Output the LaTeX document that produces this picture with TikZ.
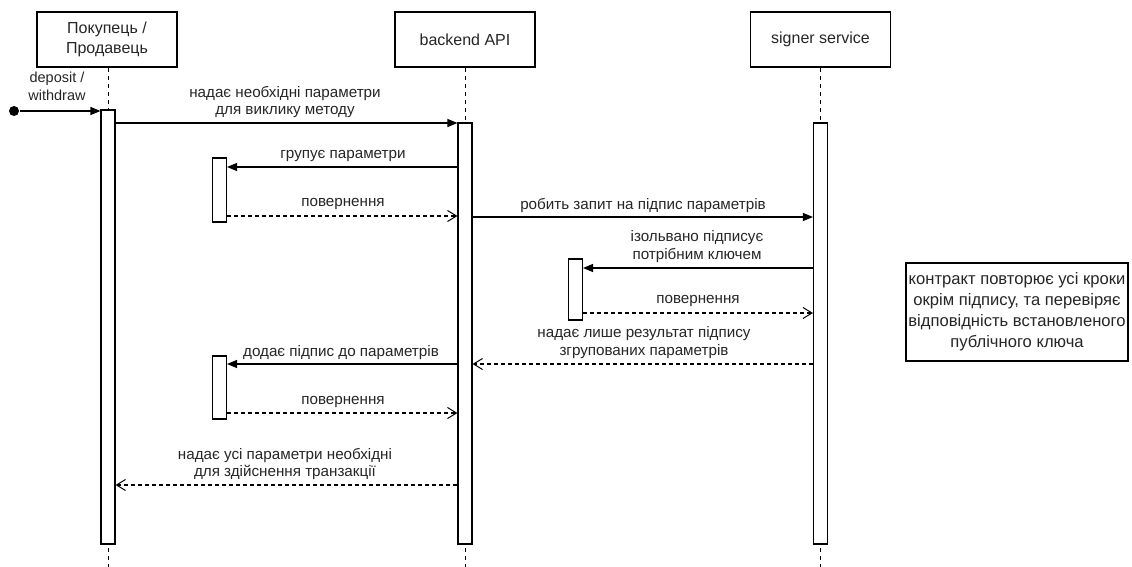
\documentclass[tikz,border=0pt]{standalone}
\usepackage{fontspec}
\setmainfont{Liberation Sans}
\usetikzlibrary{arrows.meta}
\begin{document}
\begin{tikzpicture}[x=1pt,y=-1pt,
  line width=1.1pt,
  head/.style={draw, fill=white, minimum width=140pt, minimum height=55pt,
    inner sep=0pt, align=center, text=black!85, font=\fontsize{16}{20}\selectfont},
  bar/.style={draw, fill=white, minimum width=14pt, inner sep=0pt},
  life/.style={dash pattern=on 4pt off 4pt, line width=1pt},
  call/.style={-{Triangle[length=10pt,width=8pt]}},
  ret/.style={dash pattern=on 4pt off 3pt, -{Straight Barb[length=9pt,width=11pt,line width=1pt]}},
  lbl/.style={align=center, inner sep=0pt, text=black!85, font=\fontsize{15.2}{17.5}\selectfont},
  note/.style={draw, fill=white, align=center, inner sep=0pt, minimum width=222pt,
    minimum height=98pt, text=black!85, font=\fontsize{16.6}{21}\selectfont}]
\useasboundingbox[fill=white] (0,0) rectangle (1132,567);

% participants
\node[head] (hA) at (107,39.5) {Покупець /\\Продавець};
\node[head] (hB) at (465,39.5) {backend API};
\node[head] (hC) at (820.5,39.5) {signer service};

% lifeline ends
\coordinate (eA) at (108,567);
\coordinate (eB) at (465,567);
\coordinate (eC) at (820.5,567);
\draw[life] (hA.south -| eA) -- (eA);
\draw[life] (hB.south) -- (eB);
\draw[life] (hC.south -| eC) -- (eC);

% activation bars
\node[bar, minimum height=434pt] (aA) at (108,327) {};
\node[bar, minimum height=421pt] (aB) at (465,333.5) {};
\node[bar, minimum height=421pt] (aC) at (820.5,333.5) {};
\node[bar, minimum height=64pt] (s1) at (219.5,190) {};
\node[bar, minimum height=61pt] (s2) at (575.5,289.5) {};
\node[bar, minimum height=63pt] (s3) at (219.5,387.5) {};

% found message
\node[circle, fill=black, inner sep=0pt, minimum size=10pt] (start) at (14,111) {};
\draw[call] (start) -- (aA.west |- start);
\node[lbl, font=\fontsize{14.5}{18}\selectfont] (l0) at (57,86) {deposit /\\withdraw};

% messages
\draw[call] (aA.east |- 0,123) -- (aB.west |- 0,123);
\node[lbl] (l1) at (285,102) {надає необхідні параметри\\для виклику методу};

\draw[call] (aB.west |- 0,167) -- (s1.east |- 0,167);
\node[lbl] (l2) at (343,156) {групує параметри};
\draw[ret] (s1.east |- 0,216) -- (aB.west |- 0,216);
\node[lbl] (l3) at (343,204) {повернення};

\draw[call] (aB.east |- 0,217) -- (aC.west |- 0,217);
\node[lbl] (l4) at (643,206) {робить запит на підпис параметрів};

\draw[call] (aC.west |- 0,268) -- (s2.east |- 0,268);
\node[lbl] (l5) at (697,246.5) {ізольвано підписує\\потрібним ключем};
\draw[ret] (s2.east |- 0,313) -- (aC.west |- 0,313);
\node[lbl] (l6) at (698,301) {повернення};

\draw[ret] (aC.west |- 0,364) -- (aB.east |- 0,364);
\node[lbl] (l7) at (644,342.5) {надає лише результат підпису\\згрупованих параметрів};

\draw[call] (aB.west |- 0,364) -- (s3.east |- 0,364);
\node[lbl] (l8) at (341,353) {додає підпис до параметрів};
\draw[ret] (s3.east |- 0,413) -- (aB.west |- 0,413);
\node[lbl] (l9) at (343,402) {повернення};

\draw[ret] (aB.west |- 0,485) -- (aA.east |- 0,485);
\node[lbl] (l10) at (285,464) {надає усі параметри необхідні\\для здійснення транзакції};

% note
\node[note] (n) at (1017,312) {контракт повторює усі кроки\\окрім підпису, та перевіряє\\відповідність встановленого\\публічного ключа};
\end{tikzpicture}
\end{document}
